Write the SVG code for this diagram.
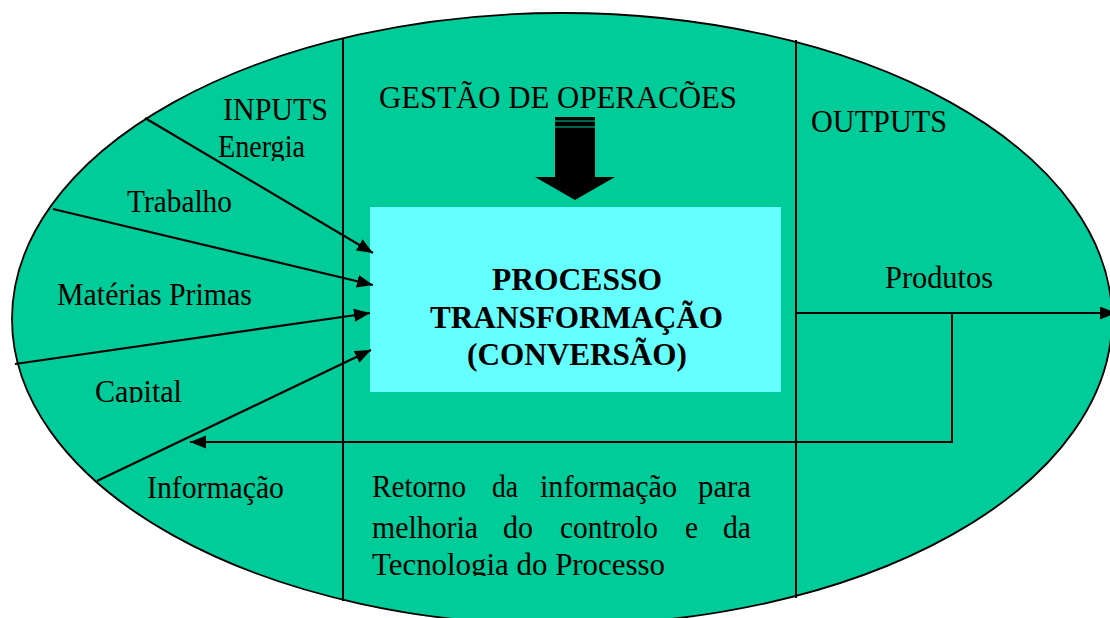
<svg xmlns="http://www.w3.org/2000/svg" width="1110" height="618" viewBox="0 0 1110 618">
<style>
.t{font-family:"Liberation Serif","Times New Roman",serif;font-size:31px;fill:#000}
.b{font-family:"Liberation Serif","Times New Roman",serif;font-size:31px;font-weight:bold;fill:#000}
.ln{stroke:#000;stroke-width:2.2;fill:none}
.dv{stroke:#000;stroke-width:2;fill:none}
</style>
<defs>
<marker id="ah" markerUnits="userSpaceOnUse" markerWidth="18" markerHeight="14" refX="16" refY="6.5" orient="auto">
<path d="M0,0 L16,6.5 L0,13 z" fill="#000"/>
</marker>
<clipPath id="cE"><rect x="0" y="0" width="1110" height="161"/></clipPath>
<clipPath id="cC"><rect x="0" y="0" width="1110" height="403"/></clipPath>
<clipPath id="cT"><rect x="0" y="0" width="1110" height="576"/></clipPath>
</defs>
<g id="ellipse">
<ellipse cx="562" cy="319" rx="550" ry="306" fill="#00CC99" stroke="#000" stroke-width="1.8"/>
</g>
<g id="dividers">
<line class="dv" x1="343" y1="38" x2="343" y2="601"/>
<line class="dv" x1="796" y1="40" x2="796" y2="598"/>
</g>
<g id="process">
<rect x="370" y="207" width="411" height="185" fill="#66FFFF"/>
<text class="b" x="492" y="290" textLength="170" lengthAdjust="spacingAndGlyphs">PROCESSO</text>
<text class="b" x="430" y="328" textLength="293" lengthAdjust="spacingAndGlyphs">TRANSFORMAÇÃO</text>
<text class="b" x="467" y="365" textLength="220" lengthAdjust="spacingAndGlyphs">(CONVERSÃO)</text>
</g>
<g id="gestao">
<text class="t" x="379" y="108" textLength="358" lengthAdjust="spacingAndGlyphs">GESTÃO DE OPERACÕES</text>
<path d="M555,117 H595 V177 H615 L575,200 L535,177 H555 Z" fill="#000"/>
<line x1="555" y1="121" x2="595" y2="121" stroke="#00CC99" stroke-width="1"/>
<line x1="555" y1="127" x2="595" y2="127" stroke="#00CC99" stroke-width="1"/>
</g>
<g id="inputs">
<text class="t" x="223" y="120" textLength="105" lengthAdjust="spacingAndGlyphs">INPUTS</text>
<text class="t" x="218" y="157" clip-path="url(#cE)" textLength="87" lengthAdjust="spacingAndGlyphs">Energia</text>
<text class="t" x="127" y="212" textLength="105" lengthAdjust="spacingAndGlyphs">Trabalho</text>
<text class="t" x="57" y="305" textLength="195" lengthAdjust="spacingAndGlyphs">Matérias Primas</text>
<text class="t" x="95" y="402" clip-path="url(#cC)" textLength="87" lengthAdjust="spacingAndGlyphs">Capital</text>
<text class="t" x="147" y="498" textLength="137" lengthAdjust="spacingAndGlyphs">Informação</text>
</g>
<g id="feedback-text" clip-path="url(#cT)">
<text class="t" y="497"><tspan x="372" textLength="94" lengthAdjust="spacingAndGlyphs">Retorno</tspan> <tspan x="492" textLength="26" lengthAdjust="spacingAndGlyphs">da</tspan> <tspan x="540" textLength="137" lengthAdjust="spacingAndGlyphs">informação</tspan> <tspan x="698" textLength="53" lengthAdjust="spacingAndGlyphs">para</tspan></text>
<text class="t" y="538"><tspan x="372" textLength="106" lengthAdjust="spacingAndGlyphs">melhoria</tspan> <tspan x="503" textLength="30" lengthAdjust="spacingAndGlyphs">do</tspan> <tspan x="560" textLength="98" lengthAdjust="spacingAndGlyphs">controlo</tspan> <tspan x="685" textLength="13" lengthAdjust="spacingAndGlyphs">e</tspan> <tspan x="723" textLength="28" lengthAdjust="spacingAndGlyphs">da</tspan></text>
<text class="t" x="372" y="575" textLength="293" lengthAdjust="spacingAndGlyphs">Tecnologia do Processo</text>
</g>
<g id="outputs">
<text class="t" x="811" y="132" textLength="136" lengthAdjust="spacingAndGlyphs">OUTPUTS</text>
<text class="t" x="885" y="288" textLength="108" lengthAdjust="spacingAndGlyphs">Produtos</text>
</g>
<g id="connectors">
<line class="ln" x1="145" y1="118" x2="373" y2="253" marker-end="url(#ah)"/>
<line class="ln" x1="53" y1="209" x2="373" y2="285" marker-end="url(#ah)"/>
<line class="ln" x1="15" y1="364" x2="370" y2="313" marker-end="url(#ah)"/>
<line class="ln" x1="97" y1="481" x2="371" y2="350" marker-end="url(#ah)"/>
<line class="dv" x1="796" y1="313" x2="1116" y2="313" marker-end="url(#ah)"/>
<polyline class="dv" points="952,313 952,442 190,442" marker-end="url(#ah)"/>
</g>
</svg>
